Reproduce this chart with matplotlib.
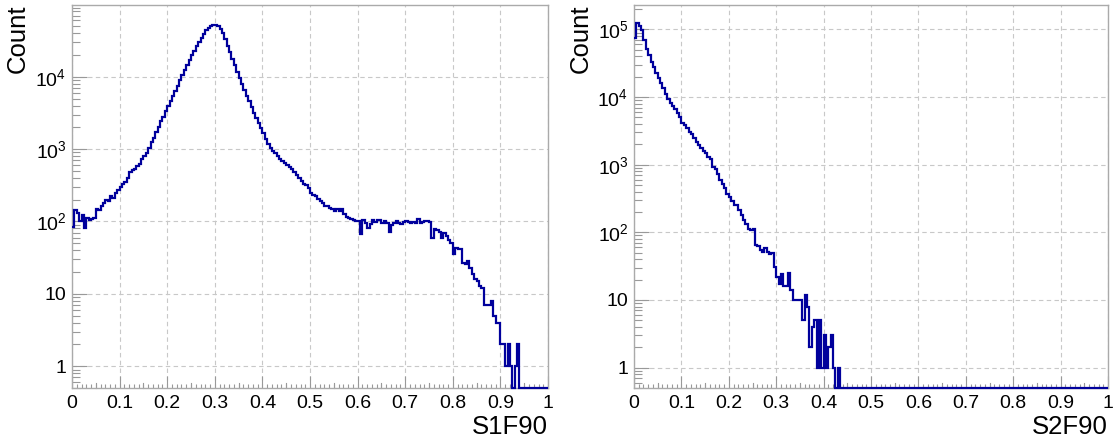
import numpy as np
import matplotlib
matplotlib.use("Agg")
import matplotlib.pyplot as plt
from matplotlib.ticker import FixedLocator, FuncFormatter, LogLocator, NullFormatter

plt.rcParams['font.family'] = ['Liberation Sans', 'DejaVu Sans']
plt.rcParams['mathtext.fontset'] = 'custom'
plt.rcParams['mathtext.rm'] = 'Liberation Sans'

# histogram binning (200 bins on [0, 1])
n_bins = 200
x_range = (0.0, 1.0)

# S1F90 counts per bin
s1f90 = [
    84, 146, 130, 103, 124, 80, 112, 105, 108, 110,
    150, 142, 163, 178, 200, 192, 228, 214, 250, 268,
    302, 331, 355, 398, 479, 513, 537, 575, 631, 724,
    794, 891, 1047, 1259, 1445, 1738, 2042, 2455, 2818, 3311,
    3890, 4571, 5370, 6310, 7413, 8913, 10470, 12300, 14450, 16980,
    19950, 22900, 26300, 30200, 34670, 38900, 43650, 47860, 50120, 52480,
    52480, 50120, 45700, 39800, 33100, 26900, 21900, 17800, 14450, 11750,
    9550, 7943, 6607, 5495, 4571, 3802, 3162, 2692, 2291, 1950,
    1660, 1380, 1175, 1047, 955, 871, 794, 741, 692, 646,
    603, 562, 525, 479, 437, 398, 363, 331, 316, 288,
    251, 234, 224, 204, 191, 178, 166, 162, 155, 148,
    141, 151, 138, 148, 126, 115, 110, 107, 105, 102,
    100, 68, 105, 95, 80, 92, 104, 98, 105, 104,
    96, 100, 94, 72, 88, 95, 100, 96, 93, 98,
    100, 97, 94, 98, 96, 108, 95, 99, 102, 100,
    97, 60, 78, 76, 72, 60, 70, 62, 55, 50,
    36, 43, 42, 41, 27, 26, 28, 23, 19, 16,
    15, 13, 12, 7, 7, 7, 8, 5, 4, 4,
    2, 2, 1, 2, 1, 0, 1, 2, 0, 0,
    0, 0, 0, 0, 0, 0, 0, 0, 0, 0,
]

# S2F90 counts per bin
s2f90 = [
    74000, 123000, 112000, 98000, 69000, 52000, 42000, 33000, 28000, 23000,
    19000, 16000, 13500, 11200, 9500, 8300, 7400, 6600, 5750, 5130,
    4169, 3802, 3467, 3090, 2818, 2512, 2188, 1950, 1738, 1622,
    1479, 1318, 1202, 933, 851, 741, 603, 525, 457, 363,
    331, 288, 257, 257, 214, 178, 151, 132, 112, 107,
    112, 66, 63, 55, 52, 59, 52, 48, 49, 31,
    22, 17, 24, 16, 16, 25, 14, 10, 10, 10,
    10, 5, 12, 8, 2, 4, 5, 1, 5, 1,
    3, 1, 2, 3, 1, 0, 1, 0, 0, 0,
] + [0] * 110

panels = [
    ("S1F90", s1f90, (0.5, 9.8e4), [0.0644, 0.1202, 0.4258, 0.8685]),
    ("S2F90", s2f90, (0.5, 2.3e5), [0.5671, 0.1202, 0.4240, 0.8685]),
]

x_major = [0.1 * i for i in range(11)]
x_labels = ["0", "0.1", "0.2", "0.3", "0.4", "0.5", "0.6", "0.7", "0.8", "0.9", "1"]


def log_fmt(v, pos):
    e = int(round(np.log10(v)))
    if e == 0:
        return "1"
    if e == 1:
        return "10"
    return r"$\mathregular{10^{%d}}$" % e


fig = plt.figure(figsize=(11.18, 4.41), dpi=100)
edges = np.linspace(x_range[0], x_range[1], n_bins + 1)

for name, counts, ylim, rect in panels:
    ax = fig.add_axes(rect)
    counts = np.array(counts, dtype=float)
    # empty bins are drawn on the bottom edge, like ROOT does
    shown = np.where(counts > 0, counts, ylim[0])
    ax.stairs(shown, edges, baseline=None, color="#00009c", lw=1.6,
              clip_on=False, zorder=5)

    ax.set_yscale("log")
    ax.set_xlim(*x_range)
    ax.set_ylim(*ylim)

    ax.xaxis.set_major_locator(FixedLocator(x_major))
    ax.set_xticklabels(x_labels)
    ax.xaxis.set_minor_locator(FixedLocator(np.arange(0, 1.001, 0.01)))
    ax.yaxis.set_major_locator(LogLocator(base=10, numticks=20))
    ax.yaxis.set_major_formatter(FuncFormatter(log_fmt))
    ax.yaxis.set_minor_locator(LogLocator(base=10, subs=np.arange(2, 10), numticks=20))
    ax.yaxis.set_minor_formatter(NullFormatter())

    # medium ticks at the half divisions on x
    for xm in np.arange(0.05, 1.0, 0.1):
        ax.plot([xm, xm], [0, 0.012], transform=ax.get_xaxis_transform(),
                color="#999999", lw=0.8, clip_on=False)

    ax.tick_params(axis="x", which="major", direction="in", length=9, width=0.8,
                   color="#999999", labelsize=14, pad=5, top=False)
    ax.tick_params(axis="x", which="minor", direction="in", length=3, width=0.8,
                   color="#999999", top=False)
    ax.tick_params(axis="y", which="major", direction="in", length=11, width=0.8,
                   color="#999999", labelsize=14, pad=4, right=False)
    ax.tick_params(axis="y", which="minor", direction="in", length=6, width=0.8,
                   color="#999999", right=False)

    ax.grid(True, which="major", axis="both", color="#c8c8c8", ls=(0, (4, 3)), lw=0.8)
    for sp in ax.spines.values():
        sp.set_color("#aaaaaa")
        sp.set_linewidth(1.0)

    ax.text(1.0, -0.102, name, transform=ax.transAxes, ha="right", va="center", fontsize=18.5)
    ax.text(-0.113, 1.0, "Count", transform=ax.transAxes, ha="center", va="top",
            rotation=90, fontsize=18.5)

fig.savefig("out.png", dpi=100)
